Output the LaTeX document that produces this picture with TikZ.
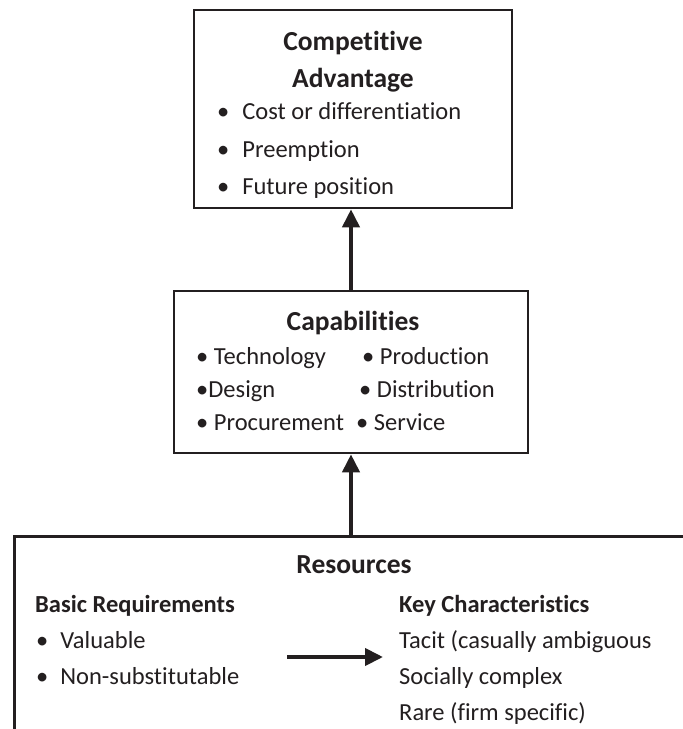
\documentclass[tikz,border=0pt]{standalone}
\usepackage{fontspec}
\setmainfont{Carlito}[Ligatures=NoCommon]
\usetikzlibrary{arrows.meta}
\definecolor{ink}{HTML}{231F20}
\begin{document}
\begin{tikzpicture}[x=1pt,y=-1pt,
  box/.style={draw=ink, line width=2.6pt, inner sep=0pt},
  txt/.style={text=ink, font=\fontsize{24.5}{29}\selectfont, inner sep=0pt, anchor=base west},
  txtb/.style={txt, font=\fontsize{24.5}{29}\selectfont\bfseries},
  ttl/.style={txt, font=\fontsize{27.5}{33}\selectfont\bfseries, anchor=base},
  bigarrow/.style={draw=ink, line width=4pt, -{Triangle[width=17pt,length=18pt]}}]
\useasboundingbox (0,0) rectangle (683,729);
\clip (0,0) rectangle (683,729);
\fill[white] (0,0) rectangle (683,729);
% boxes
\node[box, minimum width=318pt, minimum height=198pt] (adv) at (353,109) {};
\node[box, minimum width=354pt, minimum height=162pt] (cap) at (351,372) {};
\node[box, minimum width=700pt, minimum height=300pt, anchor=north west] (res) at (13,535) {};
% vertical arrows
\draw[bigarrow] (cap.north) -- (cap.north |- adv.south);
\draw[bigarrow] (cap.south |- res.north) -- (cap.south);
% competitive advantage
\node[ttl] (t1) at (353,50) {Competitive};
\node[ttl] (t2) at (353,87) {Advantage};
\node[txt] (a1) at (217,119) {•\hspace{13pt}Cost or differentiation};
\node[txt] (a2) at (217,157) {•\hspace{13pt}Preemption};
\node[txt] (a3) at (217,194) {•\hspace{13pt}Future position};
% capabilities
\node[ttl] (ct) at (353,330) {Capabilities};
\node[txt] (c1) at (196,364) {• Technology};
\node[txt] (c2) at (196,397) {•Design};
\node[txt] (c3) at (196,430) {• Procurement};
\node[txt] (c4) at (362,364) {• Production};
\node[txt] (c5) at (359,397) {• Distribution};
\node[txt] (c6) at (356,430) {• Service};
% resources
\node[ttl] (rt) at (354,573) {Resources};
\node[txtb] (rb) at (35,612) {Basic Requirements};
\node[txt] (r1) at (36,648) {•\hspace{12pt}Valuable};
\node[txt] (r2) at (36,684) {•\hspace{12pt}Non-substitutable};
\node[txtb] (rk) at (399,612) {Key Characteristics};
\node[txt] (k1) at (399,648) {Tacit (casually ambiguous};
\node[txt] (k2) at (399,684) {Socially complex};
\node[txt] (k3) at (399,720) {Rare (firm specific)};
% horizontal arrow
\coordinate (ha1) at (287,657);
\coordinate (ha2) at (383,657);
\draw[bigarrow] (ha1) -- (ha2);
\end{tikzpicture}
\end{document}
